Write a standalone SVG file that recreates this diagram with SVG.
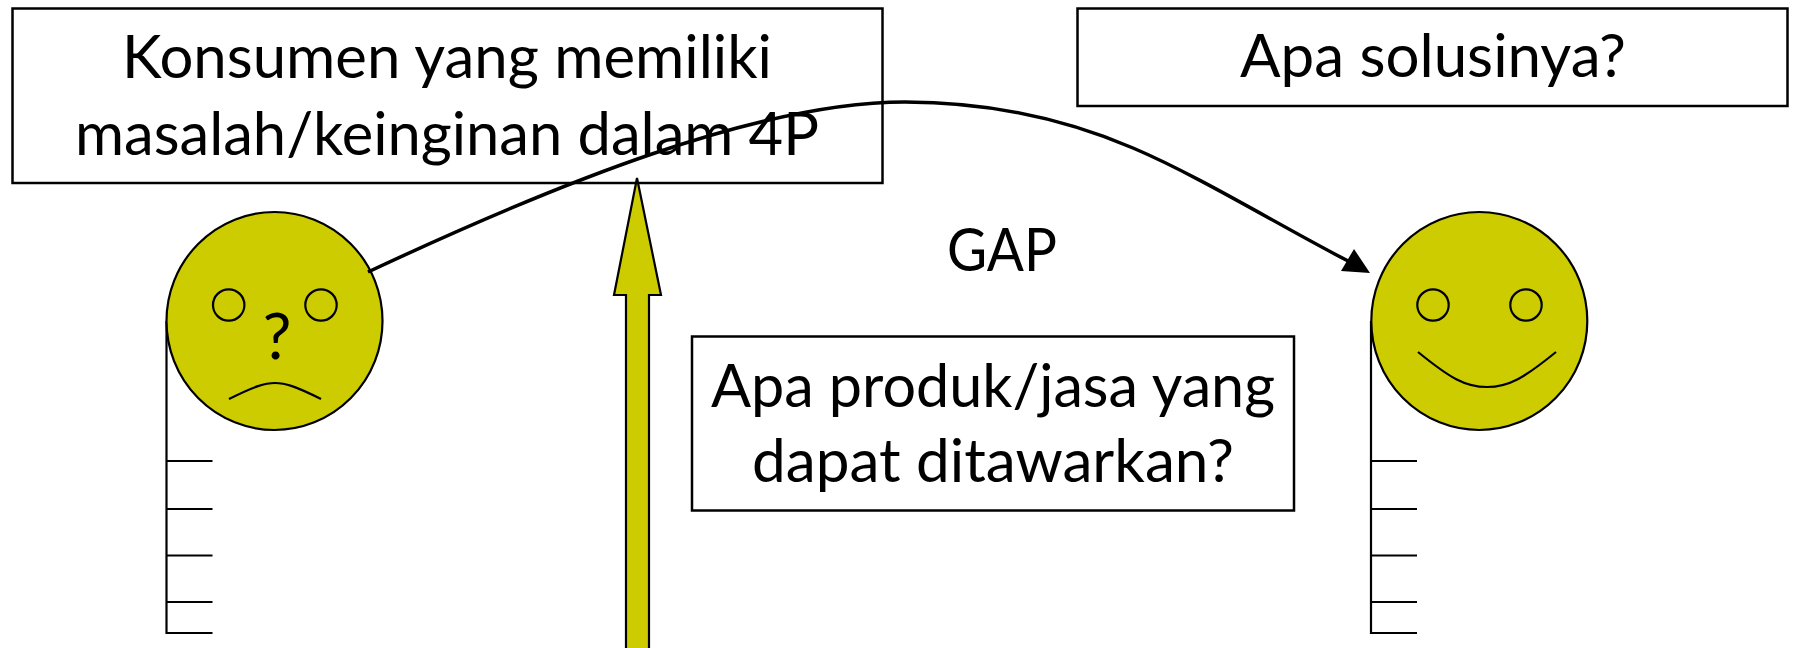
<svg xmlns="http://www.w3.org/2000/svg" width="1794" height="648" viewBox="0 0 1794 648">
<style>
.box{fill:#fff;stroke:#000;stroke-width:2.500}
.t{font-family:Lato,"Open Sans","Liberation Sans",sans-serif;font-size:60px;fill:#000;text-anchor:middle}
.face{fill:#cccc00;stroke:#000;stroke-width:2.200}
.ln{fill:none;stroke:#000;stroke-width:2.200}
</style>
<defs><g id="ticks"><path class="ln" d="M0 321V633H46M0 461H46M0 509H46M0 555.500H46M0 602H46"/></g></defs>
<g id="left-person"><use href="#ticks" x="166.500"/>
<ellipse class="face" cx="274.500" cy="321" rx="108" ry="109"/>
<circle class="ln" cx="228.700" cy="305" r="15.700"/><circle class="ln" cx="321" cy="305" r="15.700"/>
<path class="ln" d="M229 399C255 386 265 383 275 383C285 383 295 386 321 399"/>
<text class="t" x="277" y="359" style="font-size:64px">?</text></g>
<g id="right-person"><use href="#ticks" x="1371"/>
<ellipse class="face" cx="1479.300" cy="321" rx="108" ry="109"/>
<circle class="ln" cx="1433" cy="305" r="15.700"/><circle class="ln" cx="1526" cy="305" r="15.700"/>
<path class="ln" d="M1418 352C1450 378 1465 387 1487 387C1509 387 1524 378 1556 352"/></g>
<g id="box-konsumen"><rect class="box" x="12.500" y="8.500" width="870" height="174.500"/>
<text class="t" x="447" y="78" textLength="650" lengthAdjust="spacingAndGlyphs">Konsumen yang memiliki</text>
<text class="t" x="447" y="155" textLength="744" lengthAdjust="spacingAndGlyphs">masalah/keinginan dalam 4P</text></g>
<g id="box-solusi"><rect class="box" x="1077.500" y="8.500" width="710" height="97.500"/>
<text class="t" x="1433" y="77" textLength="386" lengthAdjust="spacingAndGlyphs">Apa solusinya?</text></g>
<g id="box-produk"><rect class="box" x="692" y="336.500" width="602" height="174"/>
<text class="t" x="993" y="407" textLength="564" lengthAdjust="spacingAndGlyphs">Apa produk/jasa yang</text>
<text class="t" x="993" y="482" textLength="482" lengthAdjust="spacingAndGlyphs">dapat ditawarkan?</text></g>
<g id="label-gap"><text class="t" x="1002" y="271" textLength="110" lengthAdjust="spacingAndGlyphs">GAP</text></g>
<g id="arrow-up"><path d="M637 178L661 295H649V649H626V295H614Z" fill="#cccc00" stroke="#000" stroke-width="2.200"/></g>
<g id="connectors"><path d="M368 272C560 182 760 102 905 102C990 102 1065 119 1133 148S1280 226 1350 262" fill="none" stroke="#000" stroke-width="3.500"/>
<path d="M1370 273L1341 271L1354 249Z" fill="#000"/></g>
</svg>
